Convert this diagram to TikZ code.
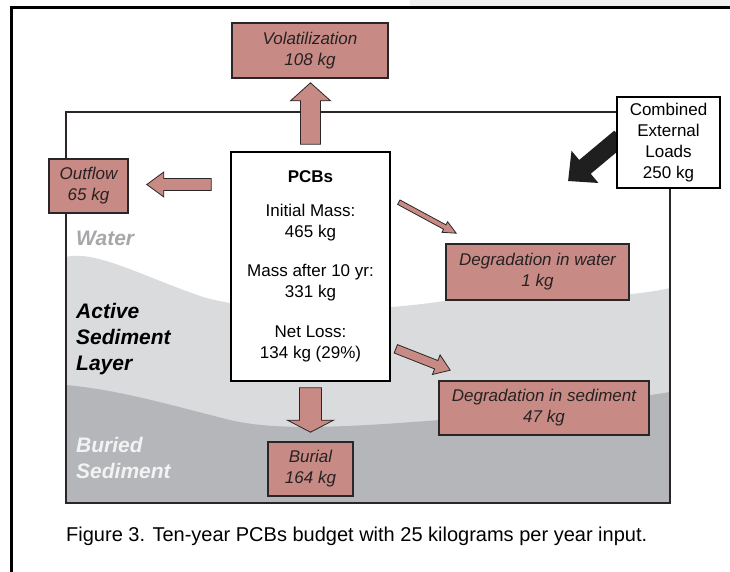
\documentclass[tikz,border=0pt]{standalone}
\usepackage{fontspec}
\setmainfont{Liberation Sans}
\usetikzlibrary{calc}
\definecolor{salmon}{HTML}{C88A84}
\definecolor{boxline}{HTML}{2A2627}
\definecolor{textdark}{HTML}{262223}
\definecolor{sedlight}{HTML}{DADBDD}
\definecolor{seddark}{HTML}{B5B6BA}
\definecolor{watergray}{HTML}{A6A7AA}
\definecolor{buriedtext}{HTML}{F3F3F3}
\definecolor{stripgray}{HTML}{F0F2F2}
\pgfdeclarelayer{back}
\pgfdeclarelayer{arrows}
\pgfsetlayers{back,arrows,main}
% #1 style, #2 start, #3 tip, #4 half shaft, #5 half head, #6 head length
\newcommand\blockarrow[6]{%
  \coordinate (bah) at ($(#3)!#6!(#2)$);
  \filldraw[#1] ($(#2)!#4!90:(#3)$) -- ($(bah)!#4!90:(#3)$) -- ($(bah)!#5!90:(#3)$) -- (#3)
    -- ($(bah)!#5!-90:(#3)$) -- ($(bah)!#4!-90:(#3)$) -- ($(#2)!#4!-90:(#3)$) -- cycle;}
\tikzset{
  fluxbox/.style={draw=boxline, line width=1.6pt, fill=salmon, text=textdark,
    font=\fontsize{17}{21}\selectfont\itshape, align=center, inner sep=0pt},
  whitebox/.style={draw=black, line width=1.8pt, fill=white,
    font=\fontsize{17}{21}\selectfont, align=center, inner sep=0pt},
  zonelabel/.style={font=\fontsize{21}{26}\selectfont\bfseries\itshape, anchor=base west, inner sep=0pt},
  flux/.style={fill=salmon, draw=boxline, line width=0.8pt, line join=miter},
  loadarrow/.style={fill=black!88, draw=none},
}
\begin{document}
\begin{tikzpicture}[x=1pt,y=-1pt]
\useasboundingbox (0,0) rectangle (730,572);
% boxes
\node[fluxbox, minimum width=156pt, minimum height=55pt] (vol) at (310,50.5) {Volatilization\\108 kg};
\node[fluxbox, minimum width=79pt, minimum height=54pt] (out) at (88.5,186) {Outflow\\65 kg};
\node[fluxbox, minimum width=183pt, minimum height=56pt] (degw) at (537.5,272) {Degradation in water\\1 kg};
\node[fluxbox, minimum width=210pt, minimum height=54pt] (degs) at (544,408) {Degradation in sediment\\47 kg};
\node[fluxbox, minimum width=85pt, minimum height=54pt] (bur) at (310.5,469) {Burial\\164 kg};
\node[whitebox, minimum width=103pt, minimum height=91pt] (comb) at (668.5,142.5) {Combined\\External\\Loads\\250 kg};
\node[whitebox, line width=1.6pt, minimum width=159pt, minimum height=229pt] (pcb) at (310.5,266.5)
  {{\bfseries PCBs}\\[13pt]Initial Mass:\\465 kg\\[18pt]Mass after 10 yr:\\331 kg\\[19pt]Net Loss:\\134 kg (29\%)};
\node[anchor=base west, inner sep=0pt, font=\fontsize{20}{24}\selectfont] (cap) at (66,541)
  {Figure 3. Ten-year PCBs budget with 25 kilograms per year input.};

\begin{pgfonlayer}{back}
  \fill[stripgray] (410,0) rectangle (730,6);
  \begin{scope}
    \clip (66,112) rectangle (670,503);
    \fill[sedlight] (66,257) .. controls (95,250) and (140,275) .. (200,296)
      .. controls (260,315) and (380,312) .. (450,300)
      .. controls (530,297) and (620,300) .. (670,288) -- (670,503) -- (66,503) -- cycle;
    \fill[seddark] (66,385) .. controls (120,390) and (170,405) .. (230,420)
      .. controls (280,432) and (360,426) .. (440,420)
      .. controls (540,410) and (620,400) .. (670,392) -- (670,503) -- (66,503) -- cycle;
  \end{scope}
  \draw[boxline, line width=2pt] (66,112) rectangle (670,503);
  \draw[black, line width=3pt] (11.5,572) -- (11.5,7.5) -- (730,7.5);
  \node[zonelabel, text=watergray] (water) at (76,245) {Water};
  \node[zonelabel, text=black, align=left] (active) at (76,370) {Active\\Sediment\\Layer};
  \node[zonelabel, text=buriedtext, align=left] (buried) at (76,478) {Buried\\Sediment};
\end{pgfonlayer}

\begin{pgfonlayer}{arrows}
  \coordinate (upA) at ($(pcb.north)+(0,-7)$);
  \coordinate (upB) at ($(pcb.north|-vol.south)+(0,4)$);
  \blockarrow{flux}{upA}{upB}{10pt}{20pt}{18pt}
  \coordinate (ofA) at ($(pcb.west|-out.east)+(-19,-1.5)$);
  \coordinate (ofB) at ($(out.east)+(18,-1.5)$);
  \blockarrow{flux}{ofA}{ofB}{6pt}{12.5pt}{17pt}
  \coordinate (ldA) at ($(comb.west)+(4,-5)$);
  \coordinate (ldB) at ($(comb.west)+(-48,38.5)$);
  \blockarrow{loadarrow}{ldA}{ldB}{9pt}{21pt}{22pt}
  \coordinate (dwA) at ($(pcb.north east)+(8,51)$);
  \coordinate (dwB) at ($(degw.north west)+(11,-10)$);
  \blockarrow{flux}{dwA}{dwB}{2.5pt}{6pt}{13pt}
  \coordinate (dsA) at ($(pcb.south east)+(5,-33)$);
  \coordinate (dsB) at ($(degs.north west)+(12,-10)$);
  \blockarrow{flux}{dsA}{dsB}{4.5pt}{10.5pt}{15pt}
  \coordinate (buA) at ($(pcb.south)+(0,6)$);
  \coordinate (buB) at ($(bur.north)+(0,-9)$);
  \blockarrow{flux}{buA}{buB}{11pt}{23pt}{12pt}
\end{pgfonlayer}
\end{tikzpicture}
\end{document}
